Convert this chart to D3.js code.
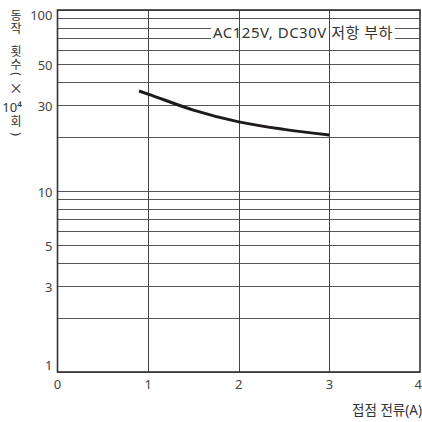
<!DOCTYPE html>
<html><head><meta charset="utf-8">
<script src="https://cdn.jsdelivr.net/npm/d3@7"></script>
<style>
html,body{margin:0;padding:0;background:#fff;}
svg{display:block;font-family:"Noto Sans","Noto Sans CJK KR",sans-serif;}
</style></head><body>
<svg id="c" width="422" height="422"></svg>
<script>
// data
const currentA = [0.9, 1.0, 1.5, 2.0, 2.5, 3.0];
const opsE4 = [35.7, 34.3, 28.0, 24.1, 21.9, 20.4];
const xTicks = [0, 1, 2, 3, 4];
const yTickLabels = [1, 3, 5, 10, 30, 50, 100];
const yGrid = [1,2,3,4,5,6,7,8,9,10,20,30,40,50,60,70,80,90,100];
const legendText = "AC125V, DC30V 저항 부하";
const xTitle = "접점 전류(A)";
const yTitleParts = ["동","작","횟","수","(","×","10⁴","회",")"];

const svg = d3.select("#c");
const L = 57.5, R = 420, T = 10, B = 372;
const x = d3.scaleLinear().domain([0,4]).range([L,R]);
const y = d3.scaleLog().domain([1,100]).range([B,T]);

// horizontal grid
svg.append("g").selectAll("line").data(yGrid).join("line")
  .attr("x1",L).attr("x2",R)
  .attr("y1",d=>Math.round(y(d))+0.5).attr("y2",d=>Math.round(y(d))+0.5)
  .attr("stroke","#555").attr("stroke-width",1);

// white box behind legend text
svg.append("rect").attr("x",211).attr("y",y(80)-2).attr("width",184)
  .attr("height",y(70)-y(80)+4).attr("fill","#fff");

// vertical grid
svg.append("g").selectAll("line").data(xTicks.slice(1,4)).join("line")
  .attr("x1",d=>Math.round(x(d))+0.5).attr("x2",d=>Math.round(x(d))+0.5)
  .attr("y1",T).attr("y2",B)
  .attr("stroke","#444").attr("stroke-width",1);

// frame
svg.append("rect").attr("x",L).attr("y",T).attr("width",R-L).attr("height",B-T)
  .attr("fill","none").attr("stroke","#333").attr("stroke-width",1.6);

// legend text
svg.append("text").attr("x",213).attr("y",37.5).attr("font-size",15)
  .attr("letter-spacing",0.5)
  .attr("fill","#333").text(legendText);

// curve
const line = d3.line().x(d=>x(d[0])).y(d=>y(d[1])).curve(d3.curveMonotoneX);
svg.append("path").datum(currentA.map((c,i)=>[c,opsE4[i]]))
  .attr("d",line).attr("fill","none").attr("stroke","#1e1a1a").attr("stroke-width",3);

// y tick labels
svg.append("g").selectAll("text").data(yTickLabels).join("text")
  .attr("x",52.5).attr("text-anchor","end").attr("font-size",13).attr("fill","#444")
  .attr("y",d=> d===100 ? y(d)+10 : d===1 ? y(d)-2 : y(d)+6)
  .text(d=>d);

// x tick labels
svg.append("g").selectAll("text").data(xTicks).join("text")
  .attr("x",d=>x(d)).attr("y",389).attr("text-anchor",d=>d===4?"end":"middle")
  .attr("dx",d=>d===4?2:0)
  .attr("font-size",13).attr("fill","#444").text(d=>d);

// x title
svg.append("text").attr("x",422).attr("y",415).attr("text-anchor","end")
  .attr("font-size",13.5).attr("fill","#333").text(xTitle);

// y title (stacked)
const yPos = [15,28,51,64,74,88,107,121,134];
const g = svg.append("g").attr("font-size",12).attr("fill","#333")
  .attr("font-family","'Noto Sans CJK KR','Noto Sans',sans-serif");
yTitleParts.forEach((t,i)=>{
  const tx = g.append("text").attr("text-anchor","middle").text(t);
  if (t==="(" || t===")") {
    tx.attr("transform",`translate(16,${yPos[i]}) rotate(90)`).attr("dy","0.35em")
      .attr("font-family","'Noto Sans',sans-serif");
  } else if (t==="10⁴") {
    tx.attr("x",12).attr("y",yPos[i]+5).attr("font-family","'Noto Sans',sans-serif").attr("font-size",13);
  } else if (t==="×") {
    tx.attr("x",16).attr("y",yPos[i]+5).attr("font-size",14);
  } else {
    tx.attr("x",16).attr("y",yPos[i]+4.5);
  }
});
</script>
</body></html>
